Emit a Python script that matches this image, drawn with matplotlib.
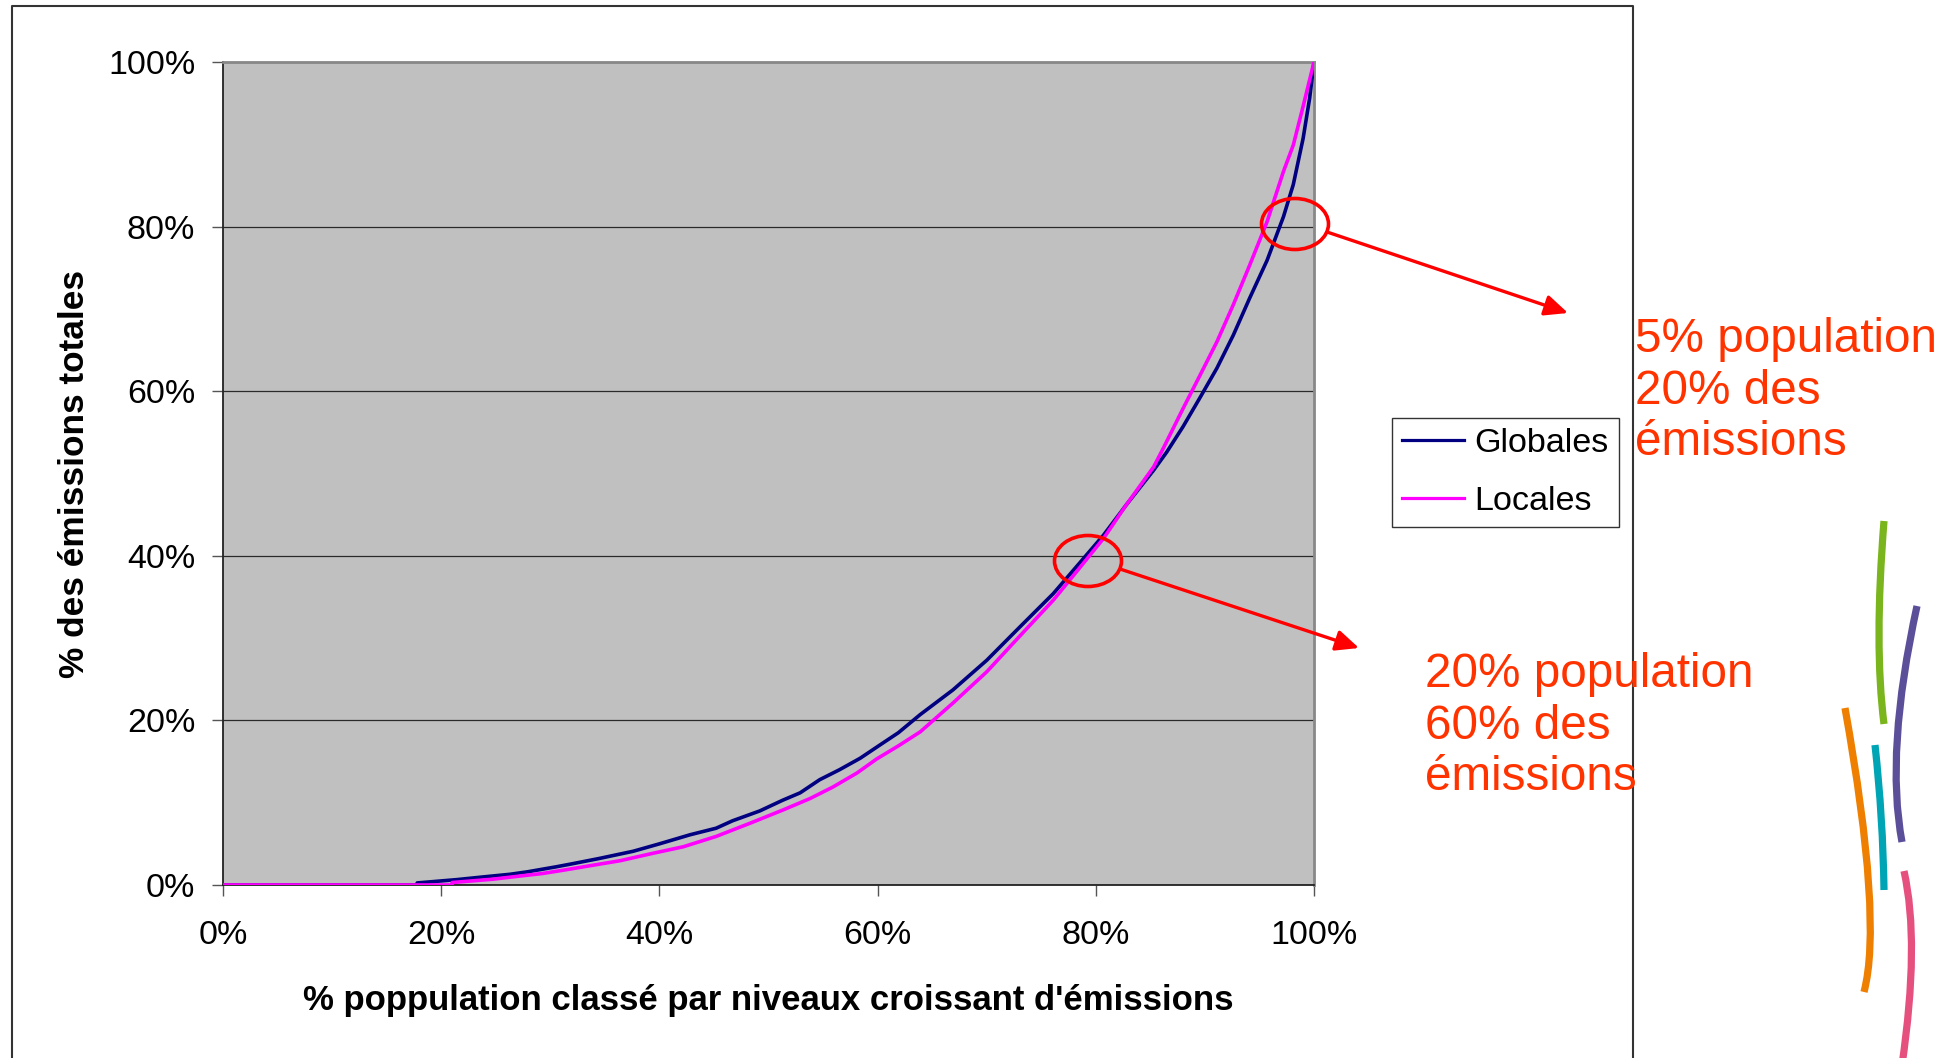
import matplotlib
matplotlib.use("Agg")
import matplotlib.pyplot as plt
from matplotlib.patches import Ellipse, FancyArrowPatch, PathPatch
from matplotlib.path import Path

plt.rcParams['font.family'] = ['Liberation Sans', 'DejaVu Sans']

# cumulative share of population (%) and cumulative share of emissions (%)
pop_glob = [0, 17.8, 17.8, 21.4, 24.0, 26.3, 27.9, 30.5, 31.9, 34.4, 37.6, 40.0,
            42.8, 45.2, 46.7, 49.2, 51.3, 52.9, 54.7, 56.5, 58.4, 60.2, 61.9,
            63.9, 66.9, 70.0, 73.0, 76.1, 78.5, 80.7, 82.8, 85.3, 86.5, 88.0,
            89.5, 91.1, 92.6, 94.1, 95.7, 97.2, 98.1, 99.0, 99.6, 100]
em_glob = [0, 0, 0.25, 0.65, 1.0, 1.3, 1.6, 2.2, 2.55, 3.2, 4.1, 5.0,
           6.1, 6.9, 7.8, 9.0, 10.3, 11.2, 12.8, 14.0, 15.4, 17.0, 18.5,
           20.7, 23.7, 27.3, 31.3, 35.4, 39.1, 42.5, 46.2, 50.4, 52.6, 55.7,
           59.1, 62.8, 66.8, 71.3, 75.9, 81.2, 85.1, 90.7, 95.6, 100]

pop_loc = [0, 21.0, 21.0, 24.7, 27.3, 29.3, 31.2, 33.9, 36.4, 39.4, 42.2, 45.2,
           48.3, 51.3, 53.8, 55.9, 58.1, 59.9, 61.9, 63.9, 66.9, 70.0, 73.0,
           76.1, 78.5, 80.7, 82.8, 85.3, 86.2, 88.0, 89.5, 91.1, 92.6, 94.1,
           95.7, 97.2, 98.1, 99.0, 100]
em_loc = [0, 0, 0.3, 0.7, 1.1, 1.4, 1.8, 2.4, 2.95, 3.85, 4.65, 5.9,
          7.5, 9.1, 10.5, 11.9, 13.6, 15.3, 16.9, 18.6, 22.1, 25.9, 30.2,
          34.6, 38.5, 42.1, 46.2, 50.8, 53.1, 57.9, 61.8, 66.0, 70.5, 75.3,
          80.6, 86.7, 89.9, 94.6, 100]

ticks = [0, 20, 40, 60, 80, 100]
tick_labels = ['0%', '20%', '40%', '60%', '80%', '100%']
series_names = ['Globales', 'Locales']
note_top = "5% population\n20% des\némissions"
note_bottom = "20% population\n60% des\némissions"

W, H = 1955, 1058
fig = plt.figure(figsize=(W / 100, H / 100), dpi=100)
fig.patch.set_facecolor('white')

# main chart (pixel box: 223..1314 x 62..885)
ax = fig.add_axes([223 / W, 1 - 885 / H, (1314 - 223) / W, (885 - 62) / H])
ax.set_facecolor('#c0c0c0')
ax.plot(pop_glob, em_glob, color='#000080', lw=2.6, label=series_names[0], zorder=3)
ax.plot(pop_loc, em_loc, color='#ff00ff', lw=2.6, label=series_names[1], zorder=4)

ax.set_xlim(0, 100)
ax.set_ylim(0, 100)
ax.set_xticks(ticks)
ax.set_xticklabels(tick_labels)
ax.set_yticks(ticks)
ax.set_yticklabels(tick_labels)
ax.yaxis.grid(True, color='#2a2a2a', lw=0.9)
ax.set_axisbelow(True)
ax.tick_params(direction='out', length=8, width=1, color='#555555', labelsize=24.5)
ax.tick_params(axis='x', pad=17)
ax.tick_params(axis='y', pad=12)
for s in ['top', 'right']:
    ax.spines[s].set_color('#888888')
    ax.spines[s].set_linewidth(2)
for s in ['left', 'bottom']:
    ax.spines[s].set_color('#222222')
    ax.spines[s].set_linewidth(1.3)

ax.set_xlabel("% poppulation classé par niveaux croissant d'émissions",
              fontsize=25, fontweight='bold', labelpad=24)
ax.set_ylabel("% des émissions totales", fontsize=25.4, fontweight='bold', labelpad=12)

leg = fig.legend(loc='upper left', bbox_to_anchor=(1392 / W, 1 - 418 / H),
                 fontsize=24.6, frameon=True, fancybox=False, borderaxespad=0,
                 handlelength=1.8, handletextpad=0.3, borderpad=0.3,
                 labelspacing=0.78)
leg.get_frame().set_edgecolor('black')
leg.get_frame().set_linewidth(1)
for ln in leg.get_lines():
    ln.set_linewidth(2.3)

# overlay in pixel coordinates for frame, callouts and decoration
ov = fig.add_axes([0, 0, 1, 1], facecolor='none')
ov.set_xlim(0, W)
ov.set_ylim(H, 0)
ov.axis('off')

ov.plot([12, 12, 1633, 1633], [H + 5, 6, 6, H + 5], color='#333333', lw=1.5)

red = '#ff0000'
for (cx, cy) in [(1295, 224), (1088, 561)]:
    ov.add_patch(Ellipse((cx, cy), 67, 51, fill=False, ec=red, lw=2.6))
for (x0, y0, x1, y1) in [(1327, 232, 1568, 313), (1120, 569, 1359, 648)]:
    ov.add_patch(FancyArrowPatch((x0, y0), (x1, y1), color=red, lw=2.4,
                                 arrowstyle='-|>,head_length=1.0,head_width=0.45',
                                 mutation_scale=14, shrinkA=0, shrinkB=0))

# annotations: y is the baseline of the last line
txt_color = '#ff3300'
ov.text(1635, 455, note_top, color=txt_color, fontsize=34.3, va='baseline',
        ha='left', linespacing=1.185)
ov.text(1425, 790, note_bottom, color=txt_color, fontsize=34.3, va='baseline',
        ha='left', linespacing=1.185)

# decorative strokes (logo)
strokes = [
    ((1884, 521), (1874, 646), (1884, 724), '#7ab51d'),
    ((1917, 606), (1885, 752), (1902, 842), '#5b4f9a'),
    ((1845, 708), (1883, 920), (1864, 992), '#ee7f00'),
    ((1875, 745), (1883, 818), (1884, 890), '#00a5b5'),
    ((1904, 871), (1920, 942), (1902, 1065), '#e6507f'),
]
for p0, c, p1, col in strokes:
    path = Path([p0, c, p1], [Path.MOVETO, Path.CURVE3, Path.CURVE3])
    ov.add_patch(PathPatch(path, fill=False, ec=col, lw=5.2, capstyle='butt'))

fig.savefig('out.png', dpi=100)
